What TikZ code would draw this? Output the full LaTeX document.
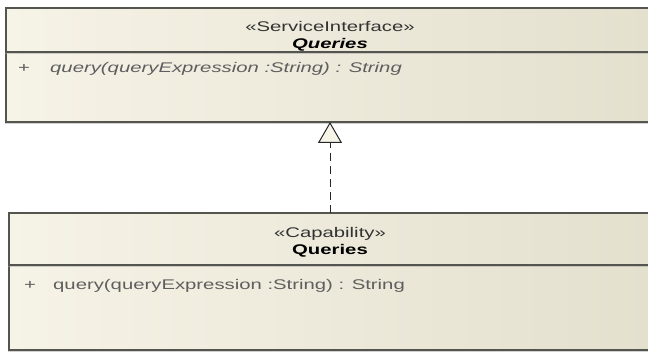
\documentclass[tikz,border=0pt]{standalone}
\usepackage{fontspec}
\usepackage{xcolor}
\usepackage{tikz}
\usetikzlibrary{arrows.meta,positioning,calc,shadows}
\newfontfamily\umlfont[FakeStretch=1.45]{Liberation Sans}
\definecolor{boxleft}{HTML}{F6F3E7}
\definecolor{boxright}{HTML}{E4E0CE}
\definecolor{boxline}{HTML}{55554F}
\definecolor{optext}{HTML}{5E5E5E}
\tikzset{
  classpart/.style={draw=boxline, line width=1.2pt, left color=boxleft, right color=boxright, inner sep=0pt, outer sep=0pt,
    drop shadow={shadow xshift=-1pt, shadow yshift=-2pt, fill=black!35}},
  stereo/.style={anchor=base, inner sep=0pt, font=\umlfont\fontsize{14}{17}\selectfont, text=black!80},
  clsname/.style={anchor=base, inner sep=0pt, font=\umlfont\fontsize{14}{17}\selectfont\bfseries, text=black},
  oper/.style={anchor=base west, inner sep=0pt, font=\umlfont\fontsize{14}{17}\selectfont, text=optext},
  realizes/.style={-{Triangle[open, length=21pt, width=24pt, fill=boxleft]}, line width=1pt, draw=black!85, dash pattern=on 8pt off 5pt}
}
\begin{document}
\begin{tikzpicture}[x=1pt, y=-1pt]
  \useasboundingbox (0,0) rectangle (648,352);
  \node[classpart, minimum width=648pt, minimum height=70pt, anchor=north west] (siBody) at (6,52) {};
  \node[classpart, minimum width=648pt, minimum height=44pt, anchor=south west] (siHead) at (siBody.north west) {};
  \node[stereo] (siStereo) at ($(siHead.north)+(0,24)$) {«ServiceInterface»};
  \node[clsname, font=\umlfont\fontsize{14}{17}\selectfont\bfseries\itshape] (siName) at ($(siHead.north)+(0,41)$) {Queries};
  \node[oper] (siVis) at ($(siBody.north west)+(12,21)$) {+};
  \node[oper, font=\umlfont\fontsize{14}{17}\selectfont\itshape] (siOp) at ($(siBody.north west)+(44,21)$) {query(queryExpression :String) : String};
  \node[classpart, minimum width=642pt, minimum height=85pt, anchor=north west] (capBody) at (9,265) {};
  \node[classpart, minimum width=642pt, minimum height=52pt, anchor=south west] (capHead) at (capBody.north west) {};
  \node[stereo] (capStereo) at ($(capHead.north)+(0,25)$) {«Capability»};
  \node[clsname] (capName) at ($(capHead.north)+(0,42)$) {Queries};
  \node[oper] (capVis) at ($(capBody.north west)+(15,25)$) {+};
  \node[oper] (capOp) at ($(capBody.north west)+(44,25)$) {query(queryExpression :String) : String};
  \draw[realizes] (capHead.north) -- (capHead.north |- siBody.south);
\end{tikzpicture}
\end{document}
